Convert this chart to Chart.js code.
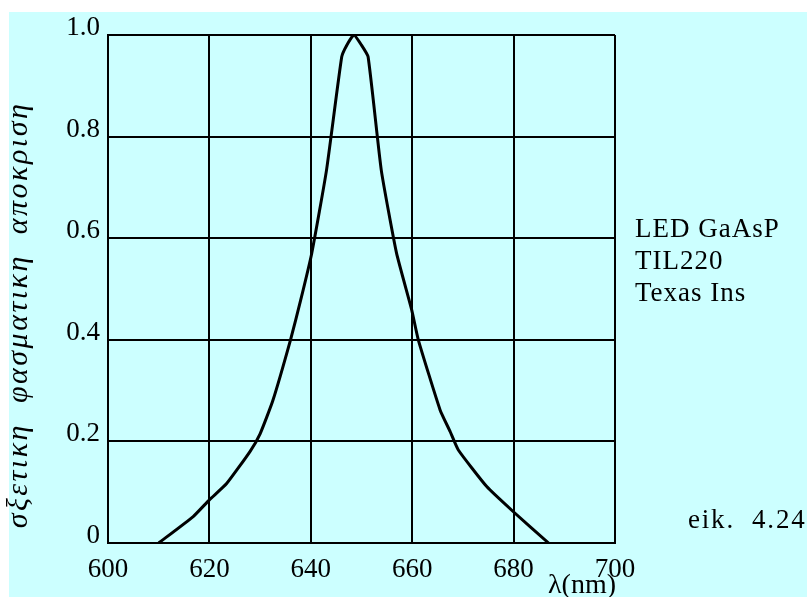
<!DOCTYPE html>
<html>
<head>
<meta charset="utf-8">
<title>LED GaAsP TIL220</title>
<script src="https://cdn.jsdelivr.net/npm/chart.js@4/dist/chart.umd.min.js"></script>
<style>
  html, body { margin: 0; padding: 0; background: #ffffff; }
  #wrap { width: 807px; height: 597px; position: relative; }
</style>
</head>
<body>
<div id="wrap"><canvas id="spectrum"></canvas></div>
<script>
'use strict';

// wavelength (nm) and relative spectral response of the LED
const wavelength = [610, 616.8, 620, 623.4, 628, 630, 632.5, 636, 638, 640.2, 643.1, 646.1, 647.1, 648.5,
                    650, 651.3, 653.9, 656.9, 659.9, 661.2, 665.5, 667.5, 669.1, 674.7, 679.9, 686.9];
const response   = [0, 0.052, 0.085, 0.117, 0.180, 0.215, 0.28, 0.40, 0.478, 0.571, 0.734, 0.957, 0.980, 1.0,
                    0.980, 0.957, 0.734, 0.571, 0.459, 0.40, 0.262, 0.219, 0.183, 0.111, 0.062, 0];

const xTicks = [600, 620, 640, 660, 680, 700];
const yTicks = [0, 0.2, 0.4, 0.6, 0.8, 1.0];
const yTickLabels = ['0', '0.2', '0.4', '0.6', '0.8', '1.0'];

const xTitle = 'λ(nm)';
const yTitle = 'σξετικη  φασματικη  αποκριση';
const noteLines = ['LED GaAsP', 'TIL220', 'Texas Ins'];
const figLabel = 'eik.  4.24';

const SERIF = "'Liberation Serif', 'DejaVu Serif', serif";

// page background, tick labels and captions drawn around the plot
const decorations = {
  id: 'decorations',
  beforeDraw(chart) {
    const { ctx } = chart;
    ctx.save();
    ctx.fillStyle = '#ccffff';
    ctx.fillRect(9, 12, chart.width - 9, chart.height - 12);
    ctx.restore();
  },
  afterDraw(chart) {
    const { ctx, scales: { x, y } } = chart;
    ctx.save();
    ctx.fillStyle = '#000000';
    ctx.font = '27px ' + SERIF;

    // y tick labels sit just above their grid line
    ctx.textAlign = 'right';
    ctx.textBaseline = 'alphabetic';
    yTicks.forEach((v, i) => {
      ctx.fillText(yTickLabels[i], x.left - 8, y.getPixelForValue(v));
    });

    // x tick labels
    ctx.textAlign = 'center';
    xTicks.forEach(v => {
      ctx.fillText(String(v), x.getPixelForValue(v), y.bottom + 34);
    });

    // axis title, overlapping the last tick label
    ctx.font = '28px ' + SERIF;
    ctx.fillText(xTitle, x.getPixelForValue(693.5), y.bottom + 50);

    // device note on the right
    ctx.font = '27px ' + SERIF;
    ctx.textAlign = 'left';
    ctx.letterSpacing = '1px';
    noteLines.forEach((t, i) => {
      ctx.fillText(t, x.right + 20, 237 + i * 32);
    });
    ctx.letterSpacing = '1.8px';
    ctx.fillText(figLabel, 688, 528);

    // rotated y title
    ctx.translate(27, 315);
    ctx.rotate(-Math.PI / 2);
    ctx.font = 'italic 30px ' + SERIF;
    ctx.letterSpacing = '2.5px';
    ctx.textAlign = 'center';
    ctx.fillText(yTitle, 0, 0);
    ctx.restore();
  }
};

new Chart(document.getElementById('spectrum'), {
  type: 'scatter',
  data: {
    datasets: [{
      data: wavelength.map((w, i) => ({ x: w, y: response[i] })),
      showLine: true,
      borderColor: '#000000',
      borderWidth: 3,
      pointRadius: 0,
      tension: 0.15,
      fill: false,
    }],
  },
  options: {
    responsive: true,
    maintainAspectRatio: false,
    animation: false,
    layout: { padding: { left: 108, top: 35, right: 192, bottom: 54 } },
    plugins: {
      legend: { display: false },
      tooltip: { enabled: false },
    },
    scales: {
      x: {
        type: 'linear',
        min: 600, max: 700,
        afterBuildTicks: s => { s.ticks = xTicks.map(v => ({ value: v })); },
        ticks: { display: false },
        grid: { color: '#000000', lineWidth: 2, drawTicks: false },
        border: { display: true, color: '#000000', width: 2 },
      },
      y: {
        type: 'linear',
        min: 0, max: 1,
        afterBuildTicks: s => { s.ticks = yTicks.map(v => ({ value: v })); },
        ticks: { display: false },
        grid: { color: '#000000', lineWidth: 2, drawTicks: false },
        border: { display: true, color: '#000000', width: 2 },
      },
    },
  },
  plugins: [decorations],
});
</script>
</body>
</html>
